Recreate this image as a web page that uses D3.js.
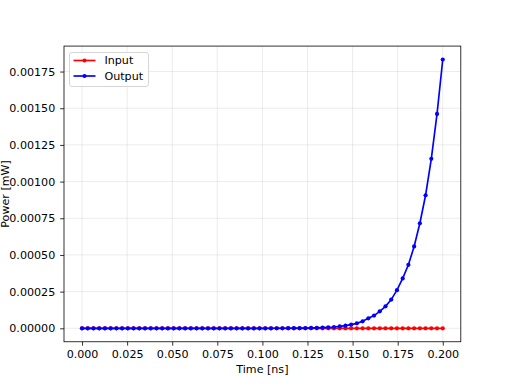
<!DOCTYPE html>
<html>
<head>
<meta charset="utf-8">
<script src="https://cdn.jsdelivr.net/npm/d3@7"></script>
<style>
  body { margin: 0; background: #fff; }
  svg { display: block; font-family: "DejaVu Sans", sans-serif; }
</style>
</head>
<body>
<svg id="chart" width="512" height="384"></svg>
<script>
// 64 samples from 0 to 0.2 ns
var time = d3.range(64).map(i => i * 0.2 / 63);
var inputPower = d3.range(64).map(() => 0);
var outputPower = [
  0, 0, 0, 0, 0, 0, 0, 0, 0, 0,
  0, 0, 0, 0, 0, 0, 0, 0, 0, 0,
  0, 0, 0, 0, 0, 0, 0, 0, 0, 0,
  0.0000001, 0.0000001, 0.0000002, 0.0000003, 0.0000004, 0.0000005, 0.0000007, 0.0000010, 0.0000013, 0.0000018,
  0.0000025, 0.0000035, 0.0000050, 0.0000070, 0.0000090, 0.0000130, 0.0000180, 0.0000250, 0.0000340, 0.0000480,
  0.0000680, 0.0000870, 0.0001160, 0.0001500, 0.0001960, 0.0002600, 0.0003400, 0.0004330, 0.0005580, 0.0007160,
  0.0009070, 0.0011550, 0.0014610, 0.0018320
];
var xTicks = [0, 0.025, 0.05, 0.075, 0.1, 0.125, 0.15, 0.175, 0.2];
var yTicks = [0, 0.00025, 0.0005, 0.00075, 0.001, 0.00125, 0.0015, 0.00175];
var series = [
  { name: "Input", color: "#ff0000", values: inputPower },
  { name: "Output", color: "#0000ff", values: outputPower }
];

var svg = d3.select("#chart");
var plotL = 64, plotR = 460.8, plotT = 46.08, plotB = 341.76;

// matplotlib-style 5% margins
var xExt = d3.extent(time), xPad = (xExt[1] - xExt[0]) * 0.05;
var yMax = d3.max(series, s => d3.max(s.values)), yMin = d3.min(series, s => d3.min(s.values));
var yPad = (yMax - yMin) * 0.05;
var x = d3.scaleLinear().domain([xExt[0] - xPad, xExt[1] + xPad]).range([plotL, plotR]);
var y = d3.scaleLinear().domain([yMin - yPad, yMax + yPad]).range([plotB, plotT]);

// grid
var grid = svg.append("g").attr("stroke", "#b0b0b0").attr("stroke-opacity", 0.3).attr("stroke-width", 0.8);
grid.selectAll(".gx").data(xTicks).join("line").attr("class", "gx")
  .attr("x1", d => x(d)).attr("x2", d => x(d)).attr("y1", plotT).attr("y2", plotB);
grid.selectAll(".gy").data(yTicks).join("line").attr("class", "gy")
  .attr("y1", d => y(d)).attr("y2", d => y(d)).attr("x1", plotL).attr("x2", plotR);

// axes
var xAxis = svg.append("g").attr("transform", `translate(0,${plotB})`)
  .call(d3.axisBottom(x).tickValues(xTicks).tickFormat(d3.format(".3f")).tickSizeInner(3.9).tickSizeOuter(0).tickPadding(4.9));
var yAxis = svg.append("g").attr("transform", `translate(${plotL},0)`)
  .call(d3.axisLeft(y).tickValues(yTicks).tickFormat(d3.format(".5f")).tickSizeInner(3.9).tickSizeOuter(0).tickPadding(4.9));
[xAxis, yAxis].forEach(a => {
  a.select(".domain").remove();
  a.selectAll("text").attr("font-size", 11.1).attr("font-family", "DejaVu Sans").attr("fill", "#000");
  a.selectAll("line").attr("stroke", "#000").attr("stroke-width", 0.8);
});

// lines + markers
var line = d3.line().x((d, i) => x(time[i])).y(d => y(d));
series.forEach(s => {
  var g = svg.append("g");
  g.append("path").datum(s.values).attr("d", line)
    .attr("fill", "none").attr("stroke", s.color).attr("stroke-width", 1.67);
  g.selectAll("circle").data(s.values).join("circle")
    .attr("cx", (d, i) => x(time[i])).attr("cy", d => y(d)).attr("r", 2.1)
    .attr("fill", s.color);
});

// frame
svg.append("rect").attr("x", plotL).attr("y", plotT)
  .attr("width", plotR - plotL).attr("height", plotB - plotT)
  .attr("fill", "none").attr("stroke", "#000").attr("stroke-width", 0.8);

// axis labels
svg.append("text").attr("x", (plotL + plotR) / 2).attr("y", 373)
  .attr("text-anchor", "middle").attr("font-size", 11.1).text("Time [ns]");
svg.append("text").attr("transform", `translate(5,${(plotT + plotB) / 2}) rotate(-90)`)
  .attr("text-anchor", "middle").attr("dominant-baseline", "central")
  .attr("font-size", 11.1).text("Power [mW]");

// legend
var lg = svg.append("g").attr("transform", "translate(69.5,52.5)");
lg.append("rect").attr("width", 79).attr("height", 34).attr("rx", 2.5)
  .attr("fill", "#fff").attr("fill-opacity", 0.8).attr("stroke", "#cccccc").attr("stroke-width", 0.8);
series.forEach((s, i) => {
  var yy = 8 + i * 15.5;
  lg.append("line").attr("x1", 4).attr("x2", 26).attr("y1", yy).attr("y2", yy)
    .attr("stroke", s.color).attr("stroke-width", 1.67);
  lg.append("circle").attr("cx", 15).attr("cy", yy).attr("r", 2.1).attr("fill", s.color);
  lg.append("text").attr("x", 35).attr("y", yy).attr("dominant-baseline", "central")
    .attr("font-size", 11.1).text(s.name);
});
</script>
</body>
</html>
